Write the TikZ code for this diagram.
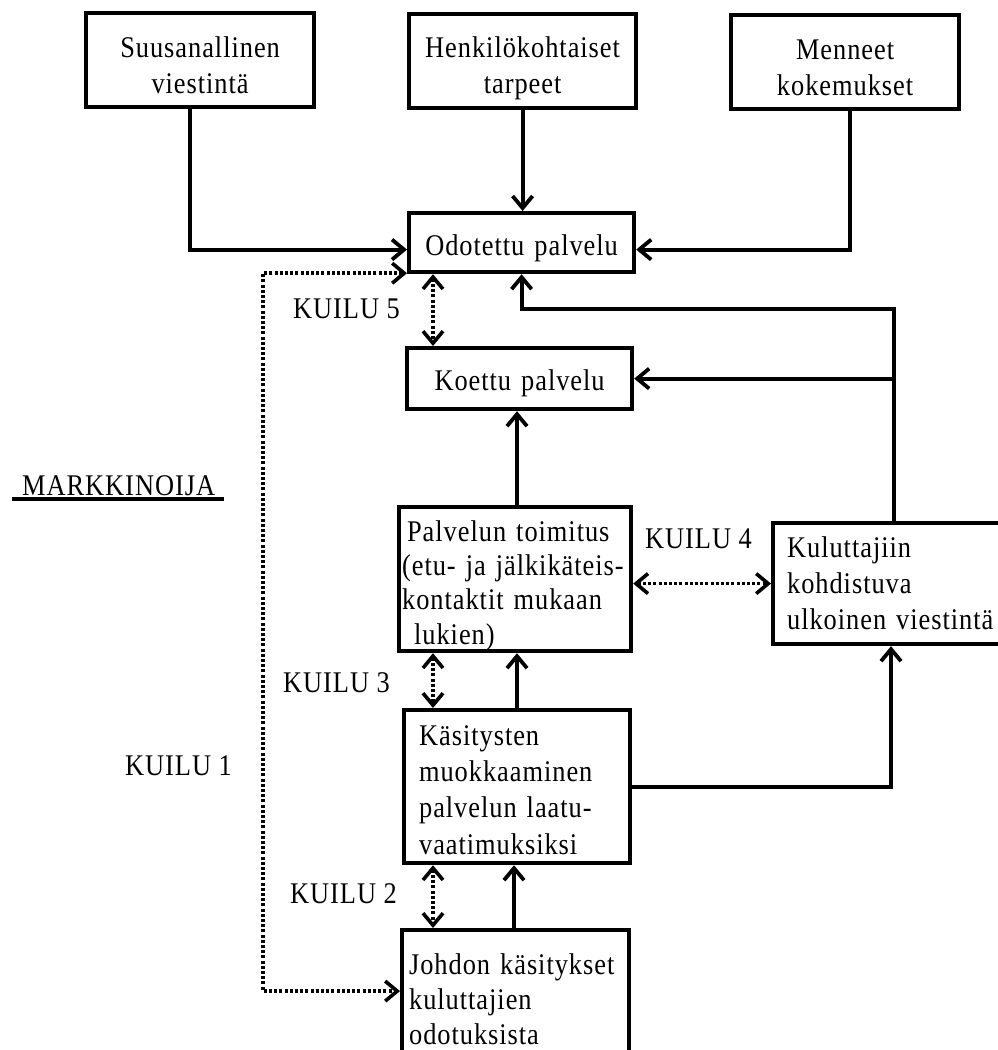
\documentclass[tikz,border=0pt]{standalone}
\usepackage{fontspec}
\setmainfont{Liberation Serif}[LetterSpace=3.2, FakeStretch=0.88]
\usetikzlibrary{arrows.meta}

\begin{document}
\begin{tikzpicture}[x=1pt, y=-1pt,
  >={Straight Barb[length=12pt,width=20pt]},
  every node/.style={font=\fontsize{30}{36}\selectfont},
  box/.style={draw, line width=4.2pt, anchor=north west, inner ysep=0pt},
  cbox/.style={box, align=center},
  lbox/.style={box, align=left},
  conn/.style={line width=3.8pt, ->},
  gap/.style={line width=3.6pt, dash pattern=on 3pt off 2.2pt, <->},
  lbl/.style={anchor=base west, inner sep=0pt}
]
\useasboundingbox (0,0) rectangle (998,1050);

% customer side
\node[cbox, text width=216pt, inner xsep=6pt, text height=44pt, text depth=50pt]
  (suu) at (84,11) {Suusanallinen\\viestintä};
\node[cbox, text width=215pt, inner xsep=6pt, text height=43pt, text depth=51pt]
  (hen) at (407,12) {Henkilökohtaiset\\tarpeet};
\node[cbox, text width=216pt, inner xsep=6pt, text height=44pt, text depth=50pt]
  (men) at (729,13) {Menneet\\kokemukset};
\node[cbox, text width=213pt, inner xsep=6pt, text height=42pt, text depth=17pt]
  (odo) at (407,211) {Odotettu palvelu};
\node[cbox, text width=213pt, inner xsep=6pt, text height=42pt, text depth=19pt]
  (koe) at (405,346) {Koettu palvelu};

% marketer side
\node[lbox, font=\fontsize{30}{34.3}\selectfont, text width=226pt, inner xsep=3pt,
      text height=34pt, text depth=110pt]
  (pal) at (397,505) {\mbox{\hspace*{5pt}Palvelun toimitus}\\\mbox{(etu- ja jälkikäteis-}\\\mbox{kontaktit mukaan}\\\mbox{\hspace*{12pt}lukien)}};
\node[lbox, text width=240pt, inner xsep=14pt, text height=34pt, text depth=87pt]
  (kul) at (771,521) {Kuluttajiin\\kohdistuva\\\mbox{ulkoinen viestintä}};
\node[lbox, font=\fontsize{30}{36.3}\selectfont, text width=196pt, inner xsep=15pt,
      text height=35pt, text depth=118pt]
  (kas) at (402,708) {Käsitysten\\muokkaaminen\\\mbox{palvelun laatu-}\\vaatimuksiksi};
\node[lbox, font=\fontsize{30}{35}\selectfont, text width=213pt, inner xsep=7pt,
      text height=44pt, text depth=96pt]
  (joh) at (400,928) {\mbox{Johdon käsitykset}\\kuluttajien\\odotuksista};

% labels
\node[lbl] (k5) at (293,318) {KUILU 5};
\node[lbl] (k4) at (645,548) {KUILU 4};
\node[lbl] (k3) at (283,692) {KUILU 3};
\node[lbl] (k1) at (125,775) {KUILU 1};
\node[lbl] (k2) at (290,903) {KUILU 2};
\node[lbl] (mk) at (22,495) {MARKKINOIJA};
\draw[line width=3.4pt] ([xshift=-10pt,yshift=-4pt]mk.base west) -- ([xshift=9pt,yshift=-4pt]mk.base east);

% lanes for vertical connectors
\coordinate (slane) at (190,0);
\coordinate (mlane) at (850,0);
\coordinate (rail) at (894,309);
\coordinate (clane) at (517,0);
\coordinate (jlane) at (514,0);
\coordinate (klane) at (891,0);
\coordinate (glane) at (433,0);
\coordinate (g1) at (263,600);

% solid connectors
\draw[conn] (suu.south -| slane) |- ([yshift=-7pt]odo.west);
\draw[conn] (hen.south) -- (hen.south |- odo.north);
\draw[conn] (men.south -| mlane) |- ([yshift=-7pt]odo.east);
\draw[conn] (kul.north -| rail) -- (rail) -| (odo.south);
\draw[conn] (rail |- koe.east) -- (koe.east);
\draw[conn] (pal.north -| clane) -- (koe.south -| clane);
\draw[conn] (kas.north -| clane) -- (pal.south -| clane);
\draw[conn] (joh.north -| jlane) -- (kas.south -| jlane);
\draw[conn] (kas.east) -| (kul.south -| klane);

% gaps
\draw[gap] (odo.south -| glane) -- (koe.north -| glane);
\draw[gap] (kul.west -| pal.east) -- (kul.west);
\draw[gap] (pal.south -| glane) -- (kas.north -| glane);
\draw[gap] (kas.south -| glane) -- (joh.north -| glane);
\draw[gap] ([yshift=1pt]odo.south west) -| (g1) |- ([yshift=9pt]joh.west);
\end{tikzpicture}
\end{document}
